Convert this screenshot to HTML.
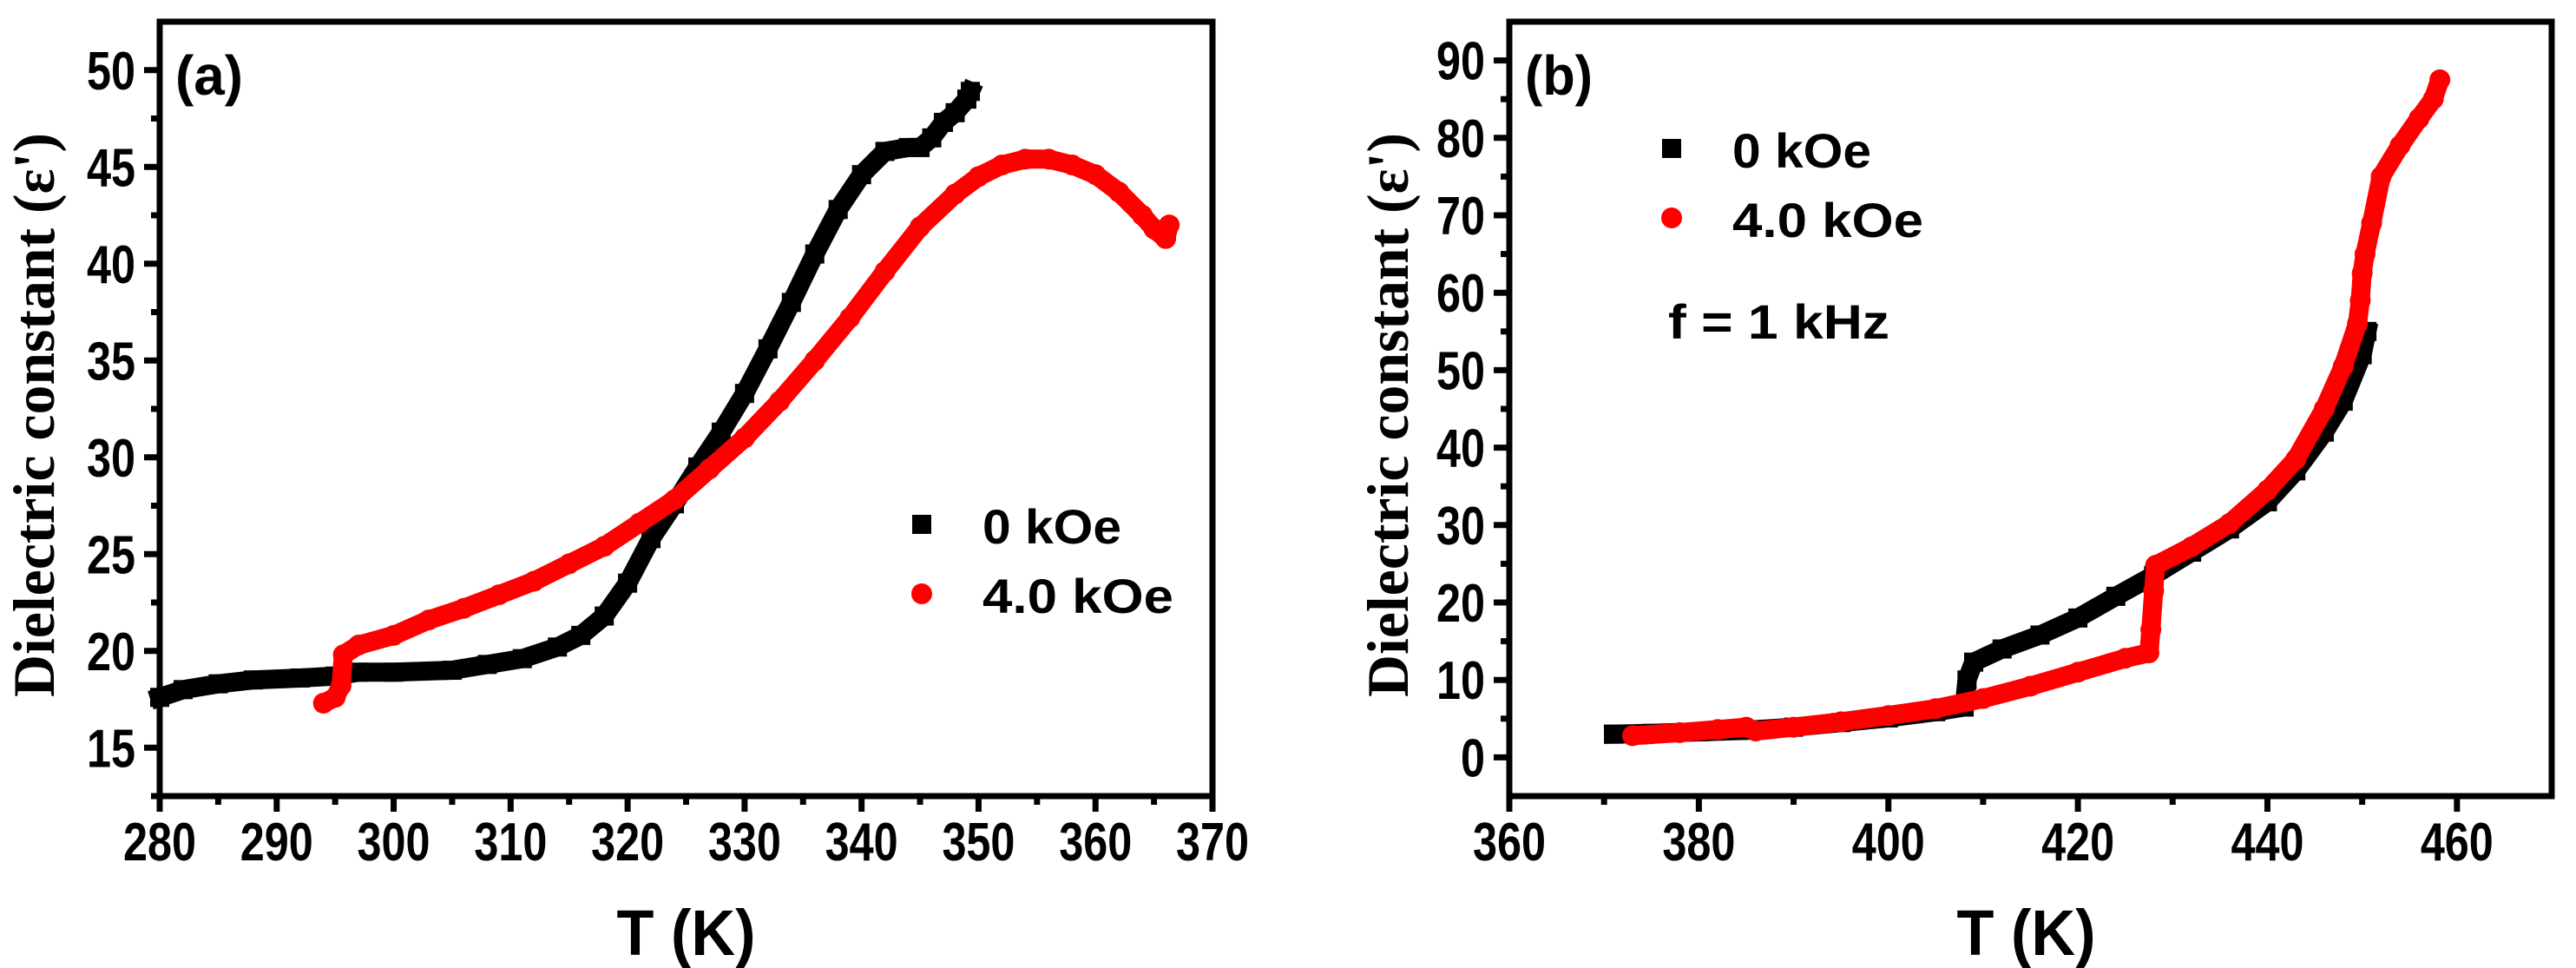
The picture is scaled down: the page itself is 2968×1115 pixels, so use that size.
<!DOCTYPE html>
<html><head><meta charset="utf-8">
<style>
html,body{margin:0;padding:0;background:#fff;}
svg{display:block;}
.tk{font-family:"Liberation Sans",sans-serif;font-weight:bold;font-size:62px;fill:#000;}
.tt{font-family:"Liberation Sans",sans-serif;font-weight:bold;font-size:74px;fill:#000;}
.yt{font-family:"Liberation Serif",serif;font-weight:bold;font-size:68px;fill:#000;}
.lg{font-family:"Liberation Sans",sans-serif;font-weight:bold;font-size:56px;fill:#000;}
</style></head>
<body>
<svg id="fig" width="2968" height="1115" viewBox="0 0 2968 1115" xmlns="http://www.w3.org/2000/svg">
<rect width="2968" height="1115" fill="#fff"/>
</svg>
<script>
// Panel (a) data
const aBlackT = [280,282,285,288,292,295,297,300,305,308,311,314,316,318,320,322,324,326,328,330,332,334,336,338,340,342,344,345,346,347,348,349,349.3];
const aBlackE = [17.6,18.0,18.3,18.5,18.6,18.7,18.9,18.9,19.0,19.3,19.6,20.2,20.8,21.8,23.5,25.8,27.6,29.5,31.3,33.3,35.6,38.0,40.5,42.8,44.6,45.8,46.0,46.0,46.5,47.3,47.8,48.5,48.9];
const aRedT = [294,295,295.5,295.7,297,300,303,306,309,312,315,318,321,324,327,330,333,336,339,342,345,348,350,352,354,356,358,360,362,364,365,366,366.3];
const aRedE = [17.3,17.6,18.2,19.8,20.3,20.8,21.6,22.2,22.9,23.6,24.5,25.4,26.6,27.8,29.4,31.0,32.9,35.0,37.2,39.6,41.9,43.6,44.5,45.1,45.4,45.4,45.1,44.6,43.7,42.5,41.8,41.3,42.0];
const aXTicks = ["280","290","300","310","320","330","340","350","360","370"];
const aYTicks = ["15","20","25","30","35","40","45","50"];
// Panel (b) data
const bBlackT = [371,375,380,385,390,395,400,405,408,408.3,409,412,416,420,424,428,432,436,440,443,446,448,450,450.5];
const bBlackE = [3,3.1,3.3,3.5,3.9,4.5,5.1,5.9,6.5,10,12.3,14,15.8,18,20.8,23.5,26.5,29.5,33,37,42,46,52,55];
const bRedT = [373,378,382,385,386,390,395,400,405,410,415,420,425,427.5,427.7,428,428.2,432,436,440,443,446,448,449.5,449.8,450,450.3,451,452,454,456,457.5,458.2];
const bRedE = [2.8,3.2,3.6,3.9,3.4,3.9,4.6,5.4,6.3,7.6,9.2,11.0,12.8,13.5,16.5,21.5,24.8,27.2,30.2,34.5,38.5,45,50.5,56,59,62.5,65,69,75,79,82.5,85,87.5];
const bXTicks = ["360","380","400","420","440","460"];
const bYTicks = ["0","10","20","30","40","50","60","70","80","90"];

const NS = "http://www.w3.org/2000/svg";
const svg = document.getElementById("fig");
function mk(tag, attrs, parent){
  const e = document.createElementNS(NS, tag);
  for (const k in attrs) e.setAttribute(k, attrs[k]);
  (parent||svg).appendChild(e);
  return e;
}

function panel(cfg){
  const g = mk("g", {});
  
  
  const sx = v => cfg.x0 + (v - cfg.xmin) / (cfg.xmax - cfg.xmin) * (cfg.x1 - cfg.x0);
  const sy = v => cfg.y1 - (v - cfg.ymin) / (cfg.ymax - cfg.ymin) * (cfg.y1 - cfg.y0);
  // series
  cfg.series.forEach(s => {
    const sg = mk("g", {}, g);
    
    
    const pts = s.t.map((t,i) => sx(t).toFixed(1) + "," + sy(s.e[i]).toFixed(1)).join(" ");
    mk("polyline", {points: pts, fill: "none", stroke: s.color, "stroke-width": 22, "stroke-linejoin": "round", "stroke-linecap": s.square ? "square" : "round"}, sg);
    s.t.forEach((t,i) => {
      let m;
      if (s.square) m = mk("rect", {x: sx(t)-11, y: sy(s.e[i])-11, width: 22, height: 22, fill: s.color}, sg);
      else m = mk("circle", {cx: sx(t), cy: sy(s.e[i]), r: 12, fill: s.color}, sg);
      
      
    });
  });
  // frame
  const fr = mk("rect", {x: cfg.x0, y: cfg.y0, width: cfg.x1 - cfg.x0, height: cfg.y1 - cfg.y0, fill: "none", stroke: "#000", "stroke-width": 7}, g);
  
  
  // x ticks
  cfg.xticks.forEach(lab => {
    const v = parseFloat(lab);
    const x = sx(v);
    mk("line", {x1: x, y1: cfg.y1, x2: x, y2: cfg.y1 + 18, stroke: "#000", "stroke-width": 7}, g);
    const tx = mk("text", {x: x, y: cfg.y1 + 74, "text-anchor": "middle", class: "tk", textLength: lab.length * 28, lengthAdjust: "spacingAndGlyphs"}, g);
    tx.textContent = lab;
    
    
    const mv = v + cfg.xstep / 2;
    if (mv < cfg.xmax) mk("line", {x1: sx(mv), y1: cfg.y1, x2: sx(mv), y2: cfg.y1 + 10, stroke: "#000", "stroke-width": 7}, g);
  });
  // y ticks
  cfg.yticks.forEach(lab => {
    const v = parseFloat(lab);
    const y = sy(v);
    mk("line", {x1: cfg.x0 - 18, y1: y, x2: cfg.x0, y2: y, stroke: "#000", "stroke-width": 7}, g);
    const tx = mk("text", {x: cfg.x0 - 28, y: y + 22, "text-anchor": "end", class: "tk", textLength: lab.length * 28, lengthAdjust: "spacingAndGlyphs"}, g);
    tx.textContent = lab;
    
    
  });
  for (let v = cfg.ymin + (cfg.yminorStart - cfg.ymin); v < cfg.ymax; v += cfg.ystep) {
    mk("line", {x1: cfg.x0 - 10, y1: sy(v), x2: cfg.x0, y2: sy(v), stroke: "#000", "stroke-width": 7}, g);
  }
  // axis titles
  const xt = mk("text", {x: (cfg.x0 + cfg.x1)/2 + cfg.xtOff, y: 1100, "text-anchor": "middle", class: "tt", textLength: 160, lengthAdjust: "spacingAndGlyphs"}, g);
  xt.textContent = "T (K)";
  
  
  const yt = mk("text", {x: 0, y: 0, "text-anchor": "middle", class: "yt", textLength: 650, lengthAdjust: "spacingAndGlyphs", transform: "translate(" + cfg.ytX + "," + cfg.ytY + ") rotate(-90)"}, g);
  yt.textContent = "Dielectric constant (ε')";
  
  
  const pl = mk("text", {x: cfg.x0 + 18, y: cfg.y0 + 84, class: "tt", "font-size": 64, textLength: 78, lengthAdjust: "spacingAndGlyphs"}, g);
  pl.style.fontSize = "64px";
  pl.textContent = cfg.label;
  
  
  // legend
  const lg = mk("g", {}, g);
  
  
  mk("rect", {x: cfg.lgX - 11, y: cfg.lgY - 11, width: 22, height: 22, fill: "#000"}, lg);
  const l1 = mk("text", {x: cfg.lgX + 70, y: cfg.lgY + 22, class: "lg", textLength: 160, lengthAdjust: "spacingAndGlyphs"}, lg);
  l1.textContent = "0 kOe";
  
  
  mk("circle", {cx: cfg.lgX, cy: cfg.lgY + cfg.lgGap, r: 12, fill: "#f00"}, lg);
  const l2 = mk("text", {x: cfg.lgX + 70, y: cfg.lgY + cfg.lgGap + 22, class: "lg", textLength: 220, lengthAdjust: "spacingAndGlyphs"}, lg);
  l2.textContent = "4.0 kOe";
  
  
  return {sx, sy, g};
}

panel({name: "panel-a", label: "(a)", x0: 184, x1: 1397, y0: 25, y1: 917, xmin: 280, xmax: 370, ymin: 12.5, ymax: 52.5,
  xstep: 10, ystep: 5, yminorStart: 12.5, xticks: aXTicks, yticks: aYTicks, xtOff: 0, ytX: 62, ytY: 478,
  lgX: 1062, lgY: 604, lgGap: 80,
  series: [
    {name: "series-0-koe", t: aBlackT, e: aBlackE, color: "#000", square: true},
    {name: "series-4-koe", t: aRedT, e: aRedE, color: "#f00", square: false}
  ]});

panel({name: "panel-b", label: "(b)", x0: 1739, x1: 2940, y0: 25, y1: 917, xmin: 360, xmax: 470, ymin: -5, ymax: 95,
  xstep: 20, ystep: 10, yminorStart: 5, xticks: bXTicks, yticks: bYTicks, xtOff: -5, ytX: 1622, ytY: 478,
  lgX: 1926, lgY: 171, lgGap: 80,
  series: [
    {name: "series-0-koe", t: bBlackT, e: bBlackE, color: "#000", square: true},
    {name: "series-4-koe", t: bRedT, e: bRedE, color: "#f00", square: false}
  ]});

const fl = mk("text", {x: 1922, y: 390, class: "lg", textLength: 255, lengthAdjust: "spacingAndGlyphs"});
fl.textContent = "f = 1 kHz";


</script>
</body></html>
